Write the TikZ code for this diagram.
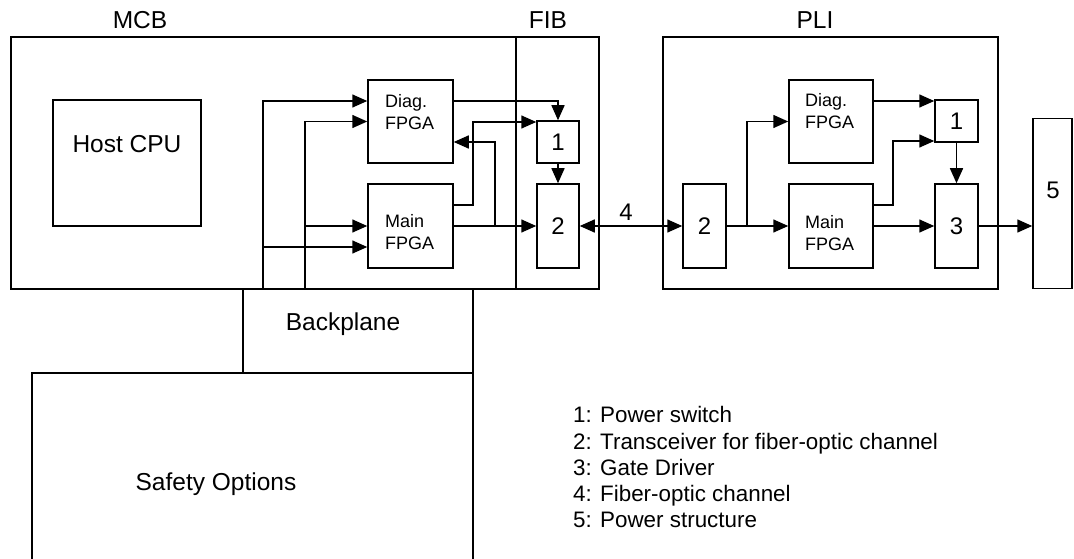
\documentclass[tikz,border=0pt]{standalone}
\usepackage{fontspec}
\setmainfont{Liberation Sans}
\usetikzlibrary{arrows.meta}
\begin{document}
\begin{tikzpicture}[x=1pt,y=-1pt,
  box/.style={draw, line width=1.5pt, rectangle, inner sep=0pt},
  arr/.style={line width=1.5pt, -{Triangle[length=15pt,width=13pt]}},
  biarr/.style={line width=1.5pt, {Triangle[length=15pt,width=13pt]}-{Triangle[length=15pt,width=13pt]}},
  big/.style={font=\fontsize{24.5}{29}\selectfont, inner sep=0pt},
  num/.style={font=\fontsize{24}{29}\selectfont, inner sep=0pt},
  small/.style={font=\fontsize{18}{22}\selectfont, inner sep=0pt, align=left, anchor=north west},
  leg/.style={font=\fontsize{22.4}{26.2}\selectfont, inner sep=0pt, align=left, anchor=north west},
]
\useasboundingbox (0,0) rectangle (1074,559);
\clip (0,0) rectangle (1074,559);
% boards
\node[box, minimum width=505pt, minimum height=252pt] (MCB) at (263.5,163) {};
\node[box, minimum width=83pt, minimum height=252pt] (FIB) at (557.5,163) {};
\node[box, minimum width=335pt, minimum height=252pt] (PLI) at (830.5,163) {};
\node[box, minimum width=39pt, minimum height=170pt] (PS) at (1052.5,203.5) {};
\node[box, minimum width=230pt, minimum height=84pt] (BP) at (358,331) {};
\node[box, minimum width=441pt, minimum height=200pt] (SO) at (252.5,473) {};
% blocks
\node[box, minimum width=148pt, minimum height=126pt] (CPU) at (127,163) {};
\node[box, minimum width=85pt, minimum height=83pt] (dA) at (410.5,121.5) {};
\node[box, minimum width=85pt, minimum height=84pt] (mA) at (410.5,226) {};
\node[box, minimum width=42pt, minimum height=42pt] (F1) at (558,142) {};
\node[box, minimum width=42pt, minimum height=84pt] (F2) at (558,226) {};
\node[box, minimum width=43pt, minimum height=84pt] (P2) at (704.5,226) {};
\node[box, minimum width=84pt, minimum height=83pt] (dB) at (831,121.5) {};
\node[box, minimum width=84pt, minimum height=84pt] (mB) at (831,226) {};
\node[box, minimum width=43pt, minimum height=42pt] (P1) at (956.5,121) {};
\node[box, minimum width=43pt, minimum height=84pt] (P3) at (956.5,226) {};
% texts
\node[big, anchor=base] (tMCB) at (140,29) {MCB};
\node[big, anchor=base] (tFIB) at (548,29) {FIB};
\node[big, anchor=base] (tPLI) at (815,29) {PLI};
\node[big, anchor=base] (tCPU) at (127,153) {Host CPU};
\node[big, anchor=base] (tBP) at (343,330) {Backplane};
\node[big, anchor=base] (tSO) at (216,490) {Safety Options};
\node[small] (ldA) at (385,94) {Diag.\\FPGA};
\node[small] (lmA) at (385,214) {Main\\FPGA};
\node[small] (ldB) at (805,93) {Diag.\\FPGA};
\node[small] (lmB) at (805,215) {Main\\FPGA};
\node[num] (nF1) at (F1) {1};
\node[num] (nF2) at (F2) {2};
\node[num] (nP2) at (P2) {2};
\node[num] (nP1) at (P1) {1};
\node[num] (nP3) at (P3) {3};
\node[num] (n5) at (1053,190) {5};
\node[num, anchor=base] (n4) at (626,220) {4};
\node[leg] (legend) at (573,406.5) {1: Power switch\\2: Transceiver for fiber-optic channel\\3: Gate Driver\\4: Fiber-optic channel\\5: Power structure};
% helper coordinates
\coordinate (b1) at (263,289);
\coordinate (b2) at (305,289);
\coordinate (j1) at (495,226);
\coordinate (j2) at (747,226);
\coordinate (k1) at (473,205);
\coordinate (k2) at (893,205);
\coordinate (y101) at (0,101);
\coordinate (y122) at (0,122);
\coordinate (y141) at (0,141);
\coordinate (y142) at (0,142);
\coordinate (y247) at (0,247);
% MCB / FIB connectors
\draw[arr] (b1) |- (dA.west |- y101);
\draw[arr] (b2) |- (dA.west);
\draw[arr] (b2 |- mA.west) -- (mA.west);
\draw[arr] (b1 |- y247) -- (mA.west |- y247);
\draw[arr] (dA.east |- y101) -| (F1.north);
\draw[arr] (mA.east |- k1) -- (k1) |- (F1.west |- y122);
\draw[arr] (mA.east) -- (F2.west);
\draw[arr] (j1) |- (dA.east |- y142);
\draw[arr] (F1.south) -- (F2.north);
\draw[biarr] (F2.east) -- (P2.west);
% PLI connectors
\draw[arr] (P2.east) -- (mB.west);
\draw[arr] (j2) |- (dB.west);
\draw[arr] (dB.east |- y101) -- (P1.west |- y101);
\draw[arr] (mB.east |- k2) -- (k2) |- (P1.west |- y141);
\draw[arr] (mB.east) -- (P3.west);
\draw[arr] (P1.south) -- (P3.north);
\draw[arr] (P3.east) -- (PS.west |- P3.east);
\end{tikzpicture}
\end{document}
